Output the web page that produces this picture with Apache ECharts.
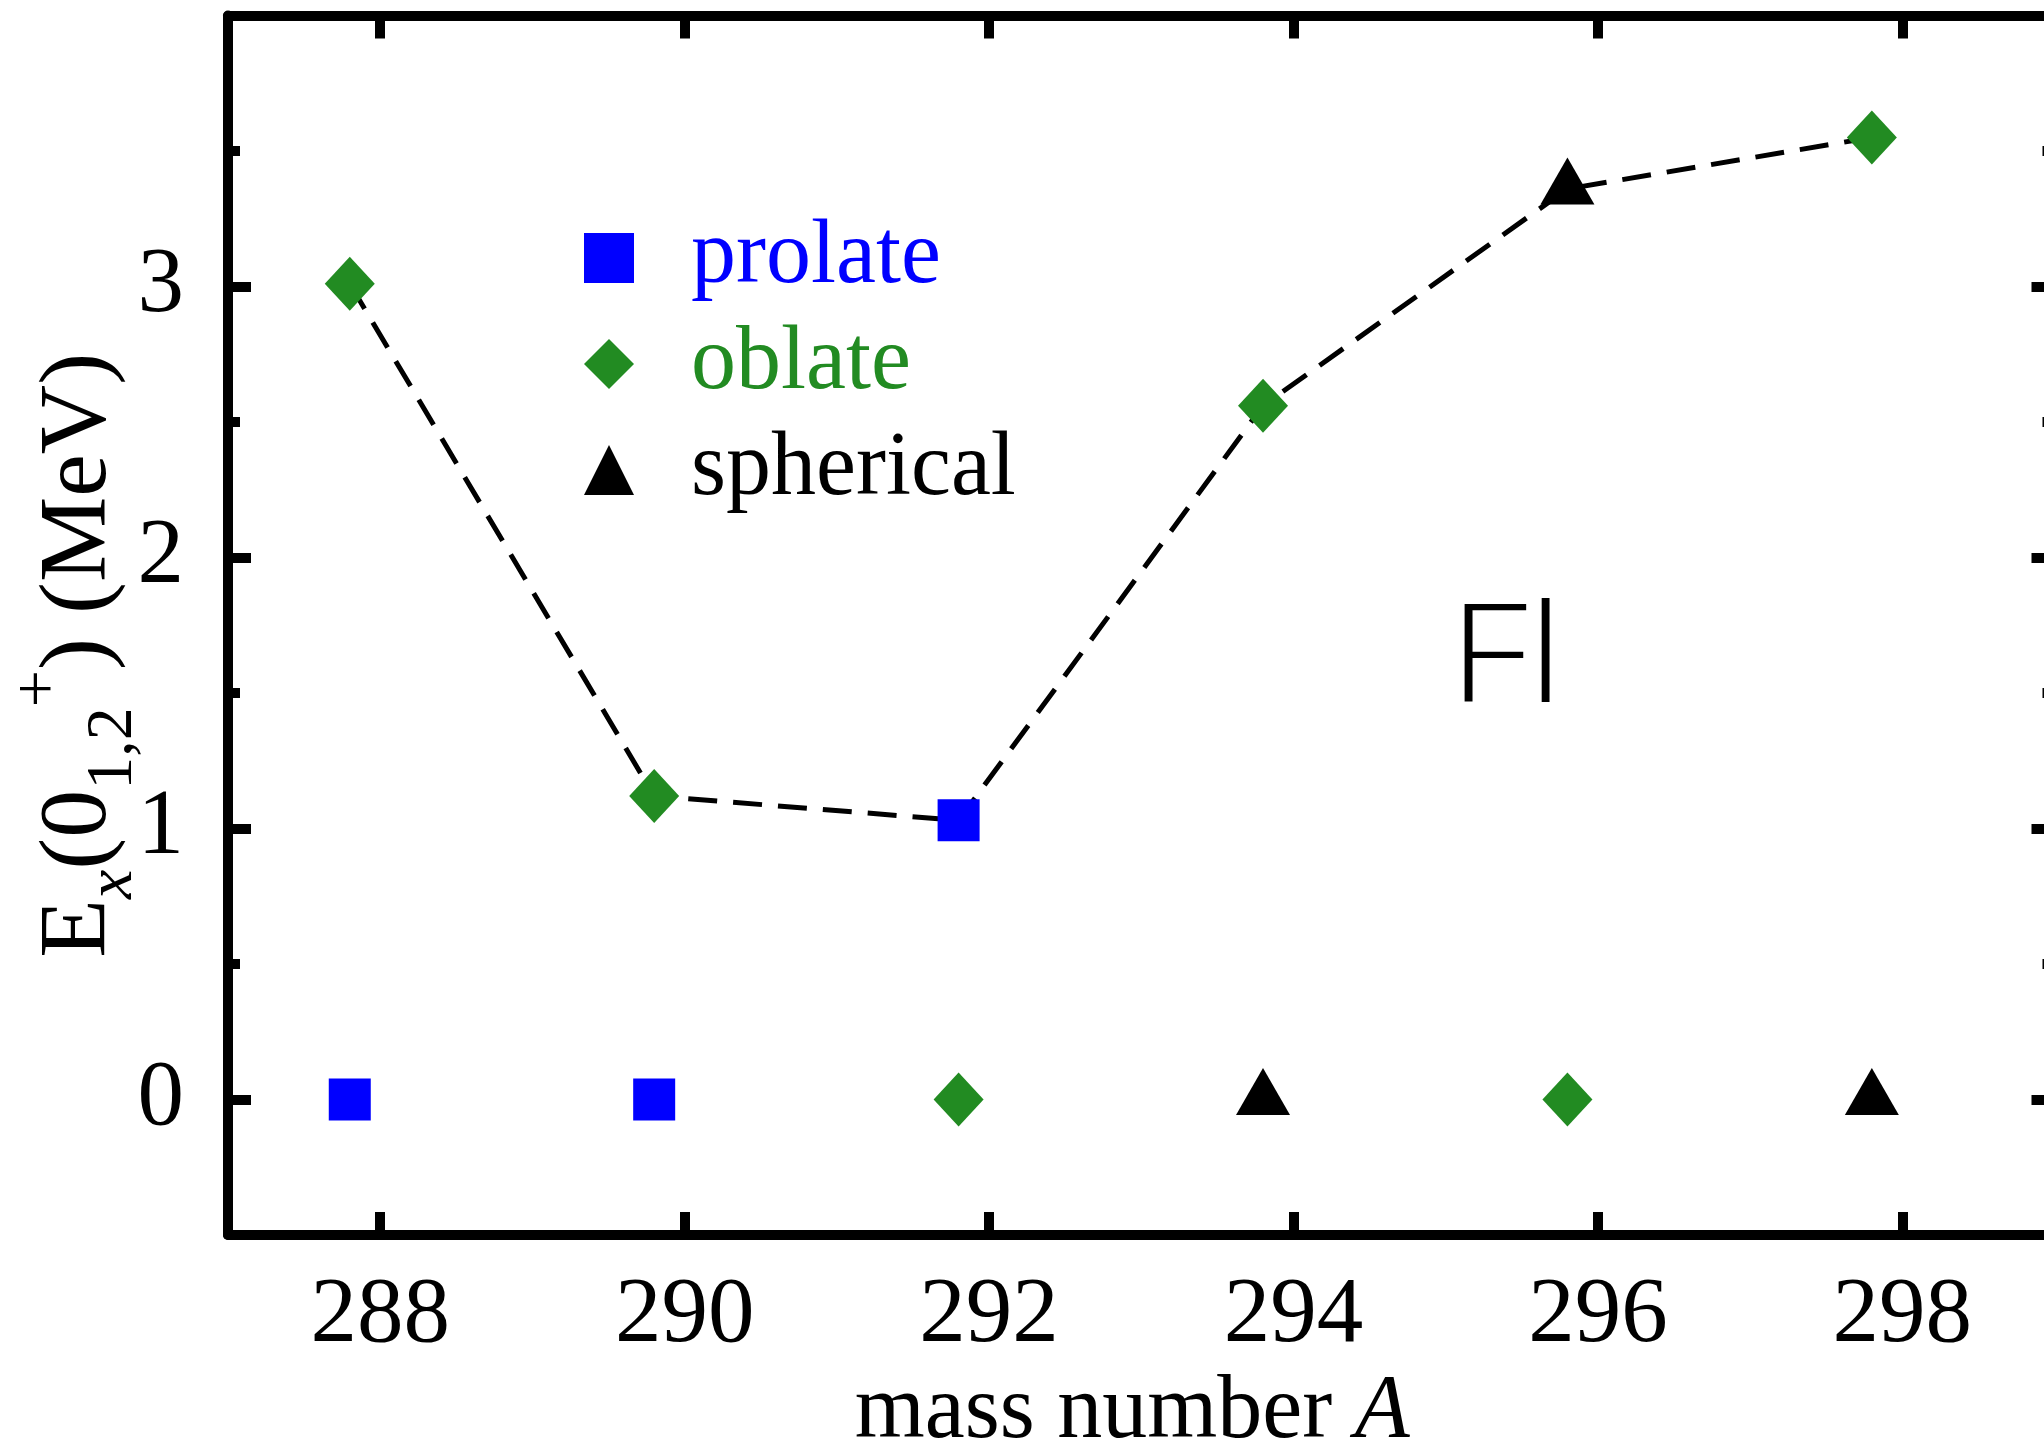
<!DOCTYPE html>
<html>
<head>
<meta charset="utf-8">
<title>Fl 0+ states</title>
<script src="https://cdn.jsdelivr.net/npm/echarts@6/dist/echarts.min.js"></script>
<style>
  html, body { margin: 0; padding: 0; background: #fff; }
  #main { width: 2044px; height: 1455px; }
</style>
</head>
<body>
<div id="main"></div>
<script>
// data
var massNumber = [287.8, 289.8, 291.8, 293.8, 295.8, 297.8];
var groundEnergy = [0, 0, 0, 0, 0, 0];
var groundShape = ['prolate', 'prolate', 'oblate', 'spherical', 'oblate', 'spherical'];
var excitedEnergy = [3.01, 1.12, 1.03, 2.56, 3.36, 3.55];
var excitedShape = ['oblate', 'oblate', 'prolate', 'oblate', 'spherical', 'oblate'];
var shapeNames = ['prolate', 'oblate', 'spherical'];
var xTicks = [288, 290, 292, 294, 296, 298];
var yTicks = [0, 1, 2, 3];
var yMinorTicks = [0.5, 1.5, 2.5, 3.5];

var shapeColor = { prolate: '#0000ff', oblate: '#228b22', spherical: '#000000' };
var shapeSymbol = { prolate: 'rect', oblate: 'diamond', spherical: 'triangle' };
var shapeSize = { prolate: [42, 42], oblate: [50, 54], spherical: [54, 47] };
var shapeOffset = { prolate: [0, 0], oblate: [0, 0], spherical: [0, -8] };

var serif = 'Liberation Serif';

var myChart = echarts.init(document.getElementById('main'));

// scatter points grouped by shape
var pointsByShape = {};
shapeNames.forEach(function (s) { pointsByShape[s] = []; });
massNumber.forEach(function (a, i) {
    pointsByShape[groundShape[i]].push([a, groundEnergy[i]]);
    pointsByShape[excitedShape[i]].push([a, excitedEnergy[i]]);
});

var series = [{
    name: 'excited',
    type: 'line',
    data: massNumber.map(function (a, i) { return [a, excitedEnergy[i]]; }),
    symbol: 'none',
    lineStyle: { color: '#000', width: 5, type: [29, 16] },
    z: 1
}];
shapeNames.forEach(function (s) {
    series.push({
        name: s,
        type: 'scatter',
        data: pointsByShape[s],
        symbol: shapeSymbol[s],
        symbolSize: shapeSize[s],
        symbolOffset: shapeOffset[s],
        itemStyle: { color: shapeColor[s], opacity: 1 },
        z: 3
    });
});

var lineBlack = { color: '#000', width: 10 };

function sideY(pos, values, len, showLine) {
    return {
        type: 'value', position: pos, min: -0.5, max: 4,
        axisLine: { show: showLine, onZero: false, lineStyle: lineBlack },
        axisTick: { show: true, inside: true, length: len, customValues: values, lineStyle: lineBlack },
        axisLabel: { show: false },
        splitLine: { show: false }
    };
}

option = {
    animation: false,
    backgroundColor: '#fff',
    grid: { left: 228, top: 15.5, width: 1826.5, height: 1219.5, containLabel: false, outerBoundsMode: 'none' },
    legend: {
        orient: 'vertical',
        left: 584, top: 213,
        padding: 0,
        itemWidth: 50, itemHeight: 50, itemGap: 16,
        selectedMode: false,
        textStyle: { fontFamily: serif, fontSize: 90, lineHeight: 50, padding: [0, 0, 0, 52] },
        data: shapeNames.map(function (s) {
            return { name: s, icon: shapeSymbol[s], textStyle: { color: shapeColor[s] } };
        })
    },
    xAxis: [{
        type: 'value', position: 'bottom', min: 287, max: 299,
        axisLine: { onZero: false, lineStyle: lineBlack },
        axisTick: { inside: true, length: 23, customValues: xTicks, lineStyle: lineBlack },
        axisLabel: { customValues: xTicks, margin: 35, color: '#000', fontFamily: serif, fontSize: 93 },
        splitLine: { show: false },
        name: 'mass number {i|A}',
        nameLocation: 'middle',
        nameGap: 122,
        nameTextStyle: {
            color: '#000', fontFamily: serif, fontSize: 90, padding: [0, 18, 0, 0],
            rich: { i: { fontFamily: serif, fontSize: 90, fontStyle: 'italic', color: '#000' } }
        }
    }, {
        type: 'value', position: 'top', min: 287, max: 299,
        axisLine: { onZero: false, lineStyle: lineBlack },
        axisTick: { inside: true, length: 23, customValues: xTicks, lineStyle: lineBlack },
        axisLabel: { show: false },
        splitLine: { show: false }
    }],
    yAxis: [{
        type: 'value', position: 'left', min: -0.5, max: 4,
        axisLine: { onZero: false, lineStyle: lineBlack },
        axisTick: { inside: true, length: 23, customValues: yTicks, lineStyle: lineBlack },
        axisLabel: { customValues: yTicks, margin: 44, color: '#000', fontFamily: serif, fontSize: 93 },
        splitLine: { show: false },
        name: '{b|E}{si|x}{b|(0}{s|1,2}{p|+}{b|) (MeV)}',
        nameLocation: 'middle',
        nameRotate: 90,
        nameGap: 75,
        nameMoveOverlap: false,
        nameTextStyle: {
            color: '#000', fontFamily: serif, fontSize: 96, padding: [0, 60, 0, 0],
            rich: {
                b: { fontFamily: serif, fontSize: 96, color: '#000' },
                si: { fontFamily: serif, fontSize: 66, fontStyle: 'italic', color: '#000', padding: [68, 0, 0, 0] },
                s: { fontFamily: serif, fontSize: 66, color: '#000', padding: [68, 0, 0, 0] },
                p: { fontFamily: serif, fontSize: 66, color: '#000', padding: [0, 0, 80, 0] }
            }
        }
    },
        sideY('left', yMinorTicks, 12, false),
        sideY('right', yTicks, 23, true),
        sideY('right', yMinorTicks, 12, false)
    ],
    series: series
};
myChart.setOption(option);

// element label, anchored in data space
var flPos = myChart.convertToPixel({ xAxisIndex: 0, yAxisIndex: 0 }, [295.02, 1.61]);
myChart.setOption({
    graphic: [{
        type: 'text', x: flPos[0], y: flPos[1], z: 10, scaleX: 1.15,
        style: { text: 'Fl', fill: '#000', fontFamily: 'Open Sans', fontWeight: 350, fontSize: 137, align: 'left', verticalAlign: 'middle' }
    }]
});
</script>
</body>
</html>
